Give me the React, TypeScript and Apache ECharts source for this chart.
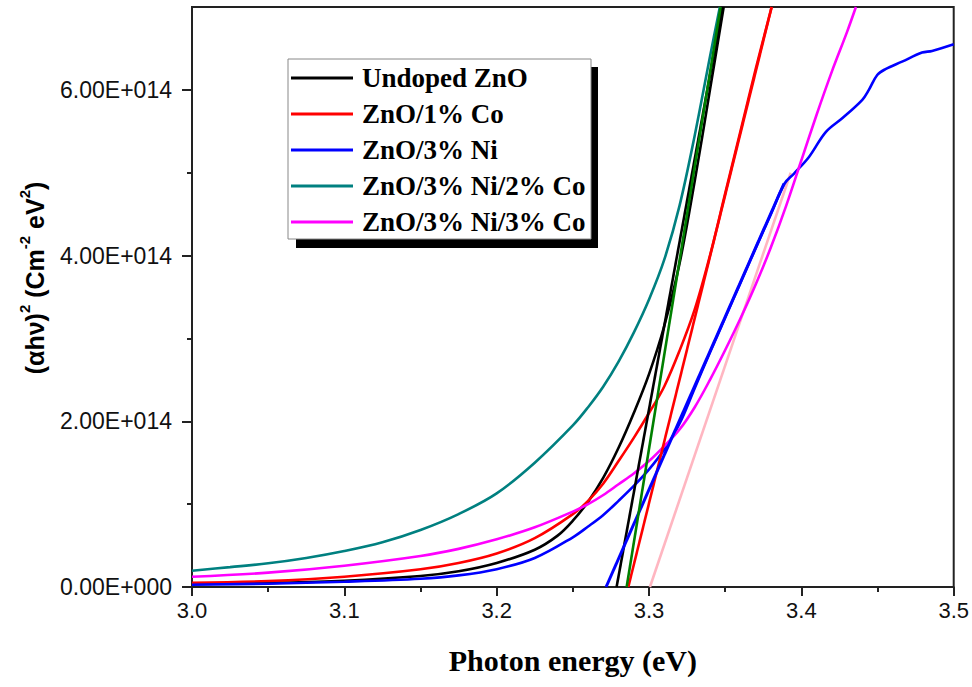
import React, { useEffect, useRef } from "react";
import * as echarts from "echarts";

// Values of (αhν)² are given in units of 1e14 Cm^-2 eV^2
const UNIT = 1e14;

const seriesNames = [
  "Undoped ZnO",
  "ZnO/1% Co",
  "ZnO/3% Ni",
  "ZnO/3% Ni/2% Co",
  "ZnO/3% Ni/3% Co",
];

// Undoped ZnO (black)
const undopedE = [3.0, 3.05, 3.1, 3.15, 3.175, 3.2, 3.225, 3.24, 3.25, 3.26, 3.27, 3.28, 3.29, 3.3, 3.31, 3.32, 3.33, 3.34, 3.349];
const undopedV = [0.036, 0.05, 0.076, 0.133, 0.19, 0.29, 0.45, 0.62, 0.8, 1.03, 1.32, 1.68, 2.1, 2.57, 3.15, 3.9, 4.9, 6.0, 7.0];

// ZnO/1% Co (red)
const co1E = [3.0, 3.05, 3.1, 3.15, 3.175, 3.2, 3.225, 3.25, 3.26, 3.27, 3.28, 3.29, 3.3, 3.31, 3.32, 3.33, 3.34, 3.35, 3.36, 3.37, 3.3805];
const co1V = [0.052, 0.072, 0.124, 0.214, 0.29, 0.405, 0.59, 0.88, 1.04, 1.25, 1.52, 1.8, 2.1, 2.42, 2.85, 3.35, 4.0, 4.75, 5.5, 6.25, 7.0];

// ZnO/3% Ni (blue)
const ni3E = [3.0, 3.05, 3.1, 3.15, 3.175, 3.2, 3.225, 3.25, 3.26, 3.27, 3.28, 3.29, 3.3, 3.31, 3.32, 3.33, 3.34, 3.35, 3.36, 3.37, 3.38, 3.389, 3.3952, 3.405, 3.416, 3.427, 3.44, 3.4443, 3.4498, 3.4552, 3.4661, 3.4792, 3.4858, 3.5];
const ni3V = [0.028, 0.04, 0.064, 0.1, 0.14, 0.215, 0.35, 0.6, 0.73, 0.87, 1.04, 1.22, 1.42, 1.66, 1.97, 2.4, 2.83, 3.25, 3.67, 4.09, 4.5, 4.87, 4.99, 5.19, 5.49, 5.66, 5.88, 6.0, 6.18, 6.25, 6.34, 6.45, 6.47, 6.55];

// ZnO/3% Ni/2% Co (teal)
const ni3co2E = [3.0, 3.025, 3.05, 3.075, 3.1, 3.125, 3.15, 3.175, 3.2, 3.225, 3.25, 3.26, 3.27, 3.28, 3.29, 3.3, 3.31, 3.32, 3.33, 3.34, 3.3465];
const ni3co2V = [0.197, 0.24, 0.286, 0.35, 0.434, 0.54, 0.688, 0.88, 1.13, 1.5, 1.95, 2.17, 2.42, 2.72, 3.07, 3.47, 3.95, 4.6, 5.45, 6.4, 7.0];

// ZnO/3% Ni/3% Co (magenta)
const ni3co3E = [3.0, 3.05, 3.1, 3.15, 3.175, 3.2, 3.225, 3.25, 3.26, 3.27, 3.28, 3.29, 3.3, 3.31, 3.32, 3.33, 3.34, 3.35, 3.36, 3.37, 3.38, 3.39, 3.4, 3.41, 3.42, 3.43, 3.4358];
const ni3co3V = [0.124, 0.173, 0.257, 0.374, 0.46, 0.575, 0.72, 0.91, 1.0, 1.11, 1.24, 1.37, 1.52, 1.7, 1.9, 2.17, 2.5, 2.86, 3.24, 3.65, 4.1, 4.6, 5.15, 5.7, 6.22, 6.7, 7.0];

// Linear fits (band-gap extrapolation lines): [startE, endE], [startV, endV]
const fitUndopedE = [3.2787, 3.3482];
const fitUndopedV = [0, 7.0];
const fitCo1E = [3.2864, 3.3805];
const fitCo1V = [0, 7.0];
const fitNi3E = [3.2718, 3.3886];
const fitNi3V = [0, 4.87];
const fitNi3Co2E = [3.2853, 3.347];
const fitNi3Co2V = [0, 7.0];
const fitNi3Co3E = [3.3006, 3.393];
const fitNi3Co3V = [0, 5.0];

const yMajorTicks = [0, 2, 4, 6];
const yMinorTicks = [1, 3, 5];

const colors = ["#000000", "#ff0000", "#0000ff", "#008080", "#ff00ff"];
const fitColors = ["#000000", "#ff0000", "#0000ff", "#008000", "#ffb6c1"];

const pairs = (e: number[], v: number[]) => e.map((x, i) => [x, v[i] * UNIT]);

const fmtY = (val: number) => {
  if (val === 0) return "0.00E+000";
  const m = val / UNIT;
  return m.toFixed(2) + "E+014";
};

export default function App() {
  const ref = useRef<HTMLDivElement>(null);

  useEffect(() => {
    if (!ref.current) return;
    const chart = echarts.init(ref.current, undefined, { renderer: "svg" });

    const curveData = [
      pairs(undopedE, undopedV),
      pairs(co1E, co1V),
      pairs(ni3E, ni3V),
      pairs(ni3co2E, ni3co2V),
      pairs(ni3co3E, ni3co3V),
    ];
    const fitData = [
      pairs(fitUndopedE, fitUndopedV),
      pairs(fitCo1E, fitCo1V),
      pairs(fitNi3E, fitNi3V),
      pairs(fitNi3Co2E, fitNi3Co2V),
      pairs(fitNi3Co3E, fitNi3Co3V),
    ];

    const curves = curveData.map((d, i) => ({
      name: seriesNames[i],
      type: "line",
      data: d,
      symbol: "none",
      smooth: 0.35,
      clip: true,
      lineStyle: { color: colors[i], width: 2.6 },
      itemStyle: { color: colors[i] },
      z: 2,
    }));
    const fits = fitData.map((d, i) => ({
      name: "fit" + i,
      type: "line",
      data: d,
      symbol: "none",
      clip: true,
      lineStyle: { color: fitColors[i], width: i === 2 ? 3 : 2.6 },
      itemStyle: { color: fitColors[i] },
      z: i === 4 ? 1 : 3,
    }));

    const option: any = {
      animation: false,
      backgroundColor: "#ffffff",
      grid: {
        left: 192,
        right: 17,
        top: 7,
        bottom: 100,
        show: true,
        borderColor: "#222",
        borderWidth: 2,
      },
      xAxis: {
        type: "value",
        min: 3.0,
        max: 3.5,
        interval: 0.1,
        name: "Photon energy (eV)",
        nameLocation: "middle",
        nameGap: 58,
        nameTextStyle: {
          fontFamily: "'Liberation Serif', 'Times New Roman', serif",
          fontWeight: "bold",
          fontSize: 30,
          color: "#000",
        },
        axisLine: { show: true, onZero: false, lineStyle: { color: "#222", width: 2 } },
        axisTick: { show: true, inside: false, length: 9, lineStyle: { color: "#222", width: 2 } },
        minorTick: { show: true, splitNumber: 2, length: 5, lineStyle: { color: "#222", width: 2 } },
        axisLabel: {
          formatter: (v: number) => v.toFixed(1),
          fontFamily: "'Liberation Sans', Arial, sans-serif",
          fontSize: 22,
          color: "#111",
          margin: 12,
        },
        splitLine: { show: false },
      },
      yAxis: [
        {
          type: "value",
          min: 0,
          max: 7 * UNIT,
          interval: UNIT,
          axisLine: { show: true, onZero: false, lineStyle: { color: "#222", width: 2 } },
          axisTick: {
            show: true,
            length: 10,
            customValues: yMajorTicks.map((v) => v * UNIT),
            lineStyle: { color: "#222", width: 2 },
          },
          axisLabel: {
            customValues: yMajorTicks.map((v) => v * UNIT),
            formatter: fmtY,
            fontFamily: "'Liberation Sans', Arial, sans-serif",
            fontSize: 23,
            color: "#111",
            margin: 20,
          },
          splitLine: { show: false },
        },
        {
          type: "value",
          min: 0,
          max: 7 * UNIT,
          interval: UNIT,
          position: "left",
          axisLine: { show: false },
          axisTick: {
            show: true,
            length: 5,
            customValues: yMinorTicks.map((v) => v * UNIT),
            lineStyle: { color: "#222", width: 2 },
          },
          axisLabel: { show: false },
          splitLine: { show: false },
        },
      ],
      legend: {
        orient: "vertical",
        left: 291,
        top: 63,
        padding: 0,
        itemGap: 6,
        itemWidth: 62,
        itemHeight: 3,
        icon: "rect",
        z: 10,
        data: seriesNames.map((n) => ({ name: n, icon: "rect" })),
        textStyle: {
          fontFamily: "'Liberation Serif', 'Times New Roman', serif",
          fontWeight: "bold",
          fontSize: 27,
          lineHeight: 30,
          color: "#000",
          padding: [0, 0, 0, 4],
        },
      },
      graphic: [
        {
          type: "rect",
          z: 5,
          shape: { x: 296, y: 67, width: 302, height: 181 },
          style: { fill: "#000" },
        },
        {
          type: "rect",
          z: 6,
          shape: { x: 288, y: 59, width: 303, height: 180 },
          style: { fill: "#fff", stroke: "#888", lineWidth: 1 },
        },
        {
          type: "text",
          z: 6,
          x: 32,
          y: 278,
          rotation: Math.PI / 2,
          style: {
            text: "{b|(αhν)}{s|2}{b| (Cm}{s|-2}{b| eV}{s|2}{b|)}",
            align: "center",
            verticalAlign: "middle",
            fill: "#000",
            rich: {
              b: {
                fontFamily: "'Liberation Sans', Arial, sans-serif",
                fontWeight: "bold",
                fontSize: 25,
                lineHeight: 30,
                verticalAlign: "bottom",
              },
              s: {
                fontFamily: "'Liberation Sans', Arial, sans-serif",
                fontWeight: "bold",
                fontSize: 15,
                lineHeight: 30,
                verticalAlign: "top",
              },
            },
          },
        },
      ],
      series: [...curves, ...fits],
    };

    chart.setOption(option);
    return () => chart.dispose();
  }, []);

  return (
    <div
      ref={ref}
      style={{ position: "absolute", left: 0, top: 0, width: 972, height: 687 }}
    />
  );
}
